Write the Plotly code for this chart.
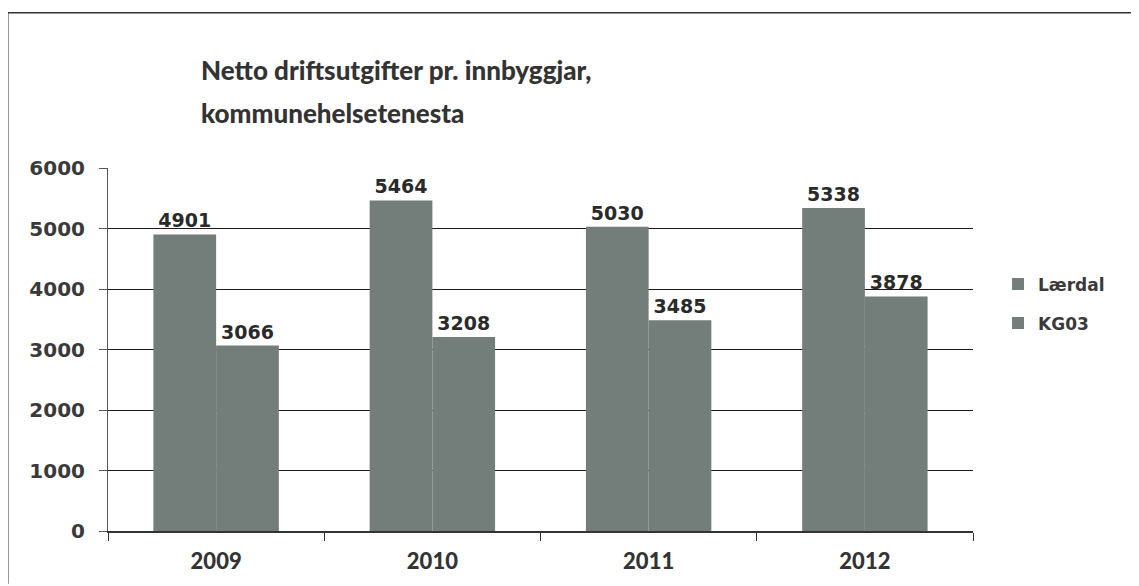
import plotly.graph_objects as go

years = ["2009", "2010", "2011", "2012"]
laerdal = [4901, 5464, 5030, 5338]
kg03 = [3066, 3208, 3485, 3878]
series_names = ["Lærdal", "KG03"]
y_ticks = [0, 1000, 2000, 3000, 4000, 5000, 6000]
title_lines = ["Netto driftsutgifter pr. innbyggjar,", "kommunehelsetenesta"]

bar_color = "#737d79"
label_font = dict(family="DejaVu Sans, Verdana", size=19, color="#2a2a2a", weight="bold")

fig = go.Figure()
for name, vals in zip(series_names, [laerdal, kg03]):
    fig.add_trace(go.Bar(
        x=years, y=vals, name=name, legendgroup=name,
        marker=dict(color=bar_color, line=dict(width=0)),
        text=[str(v) for v in vals], textposition="outside",
        textfont=label_font, cliponaxis=False,
    ))

# page body has an 8px margin: figure coordinates = screen - 8
OFF = 8
W, H = 1139 - OFF, 586 - OFF
L, R, T, B = 108 - OFF, 166, 168 - OFF, 53
pw, ph = W - L - R, H - T - B

def px(x):
    return (x - OFF - L) / pw

def py(y):
    return (H - B - (y - OFF)) / ph

title_font = dict(family="Lato, Open Sans", size=26, color="#333333", weight=900)
annotations = [
    dict(text=title_lines[0], xref="paper", yref="paper", x=px(199), y=py(88),
         xanchor="left", yanchor="bottom", showarrow=False, font=title_font),
    dict(text=title_lines[1], xref="paper", yref="paper", x=px(199), y=py(131),
         xanchor="left", yanchor="bottom", showarrow=False, font=title_font),
]

fig.update_layout(
    width=W, height=H,
    margin=dict(l=L, r=R, t=T, b=B),
    paper_bgcolor="white", plot_bgcolor="white",
    barmode="group", bargap=0.42, bargroupgap=0,
    showlegend=True,
    legend=dict(
        x=px(998), y=py(267), xanchor="left", yanchor="top",
        font=dict(family="DejaVu Sans, Verdana", size=17, color="#3a3a3a", weight="bold"),
        itemwidth=30, tracegroupgap=14, bgcolor="rgba(0,0,0,0)",
    ),
    yaxis=dict(
        range=[0, 6000], tickvals=y_ticks,
        showgrid=True, gridcolor="#1a1a1a", gridwidth=1,
        showline=True, linecolor="#555", linewidth=1,
        ticks="outside", ticklen=8, tickcolor="#555",
        ticklabelstandoff=10,
        tickfont=dict(family="DejaVu Sans, Verdana", size=20, color="#3a3a3a", weight="bold"),
        zeroline=False,
    ),
    xaxis=dict(
        showline=True, linecolor="#333", linewidth=1.5,
        ticks="outside", ticklen=8, tickcolor="#333",
        tickson="boundaries", ticklabelstandoff=10,
        tickfont=dict(family="Lato, Open Sans", size=22, color="#333333", weight=900),
    ),
    annotations=annotations,
    shapes=[
        dict(type="line", xref="paper", yref="paper",
             x0=px(8), x1=px(8), y0=py(12), y1=py(586), line=dict(color="#777", width=1.5)),
        dict(type="line", xref="paper", yref="paper",
             x0=px(8), x1=px(1139), y0=py(12), y1=py(12), line=dict(color="#333", width=1.5)),
    ],
)

fig.write_html("out.html")
